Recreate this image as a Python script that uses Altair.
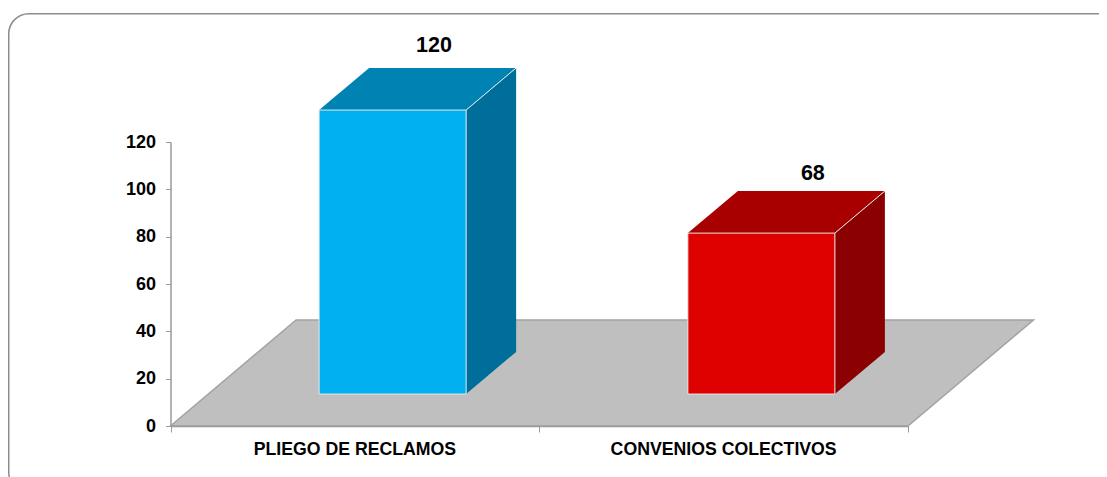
import altair as alt
import pandas as pd

# --- chart values ---
categories = ["PLIEGO DE RECLAMOS", "CONVENIOS COLECTIVOS"]
values = [120, 68]
y_ticks = [0, 20, 40, 60, 80, 100, 120]
x_ticks = [0, 1, 2]

# --- colours per category ---
front_colors = ["#00B0F0", "#DF0000"]
top_colors = ["#0082B2", "#A80000"]
side_colors = ["#006E9B", "#8B0000"]

# --- pseudo-3D geometry, in data units ---
BAR_LEFT = 0.403      # front face starts this far into the category slot
BAR_W = 0.3987
BASE = 13.5           # front-bottom height above the floor's front edge
DEPTH_X = 0.1356
DEPTH_Y = 17.8
FLOOR_DX = 0.3403
FLOOR_DY = 44.8
LABEL_X = [0.7146, 1.742]
LABEL_GAP = [40.6, 38.5]

FONT = "Liberation Sans"
AXIS_COLOR = "#9A9A9A"
VIEW_W = 1091
VIEW_H = 464

x_scale = alt.Scale(domain=[0, 2], range=[162.5, 900], nice=False, zero=False)
y_scale = alt.Scale(domain=[0, 120], range=[413, 129], nice=False, zero=False)

x_enc = alt.X("x:Q", scale=x_scale,
              axis=alt.Axis(values=x_ticks, labels=False, title=None, grid=False,
                            offset=413 - VIEW_H,
                            domainColor=AXIS_COLOR, domainWidth=1.5, tickColor=AXIS_COLOR,
                            tickWidth=1, tickSize=6, zindex=1))
y_enc = alt.Y("y:Q", scale=y_scale,
              axis=alt.Axis(values=y_ticks, title=None, grid=False, offset=-162.5,
                            domainColor=AXIS_COLOR, domainWidth=1.5, tickColor=AXIS_COLOR,
                            tickWidth=1, tickSize=5, labelFont=FONT, labelFontSize=18,
                            labelFontWeight="bold", labelColor="#000000", labelPadding=10,
                            zindex=1))

# rounded panel border: deliberately larger than the page, so it is cut at right and bottom
frame = alt.Chart(pd.DataFrame({"a": [0]})).mark_rect(
    fill="#FFFFFF", stroke="#8C8C8C", strokeWidth=1.5, cornerRadius=20
).encode(x=alt.value(0.75), x2=alt.value(1116), y=alt.value(0.75), y2=alt.value(479))

floor = pd.DataFrame({"x": [0, FLOOR_DX], "x2": [2, 2 + FLOOR_DX], "y": [0, FLOOR_DY]})
layers = [
    frame,
    alt.Chart(floor).mark_area(orient="horizontal", color="#BFBFBF", stroke="#A3A3A3",
                               strokeWidth=1.5)
    .encode(x=x_enc, x2="x2:Q", y=y_enc),
]

for i, (cat, val) in enumerate(zip(categories, values)):
    xl = i + BAR_LEFT
    xr = xl + BAR_W
    low = BASE
    high = BASE + val
    side = pd.DataFrame({"x": [xr, xr + DEPTH_X],
                         "y": [low, low + DEPTH_Y],
                         "y2": [high, high + DEPTH_Y]})
    top = pd.DataFrame({"x": [xl, xl + DEPTH_X],
                        "x2": [xr, xr + DEPTH_X],
                        "y": [high, high + DEPTH_Y]})
    front = pd.DataFrame({"x": [xl], "x2": [xr], "y": [low], "y2": [high]})
    edge = pd.DataFrame({"x": [xr], "x2": [xr + DEPTH_X], "y": [high], "y2": [high + DEPTH_Y]})
    layers += [
        alt.Chart(side).mark_area(orient="vertical", color=side_colors[i])
        .encode(x="x:Q", y="y:Q", y2="y2:Q"),
        alt.Chart(top).mark_area(orient="horizontal", color=top_colors[i])
        .encode(x="x:Q", x2="x2:Q", y="y:Q"),
        alt.Chart(edge).mark_rule(color="#E8EEF0", strokeWidth=1)
        .encode(x="x:Q", x2="x2:Q", y="y:Q", y2="y2:Q"),
        alt.Chart(front).mark_rect(color=front_colors[i], stroke="#E4E8EA", strokeWidth=1)
        .encode(x="x:Q", x2="x2:Q", y="y:Q", y2="y2:Q"),
    ]

value_labels = pd.DataFrame({"x": LABEL_X,
                             "y": [v + g for v, g in zip(values, LABEL_GAP)],
                             "t": [str(v) for v in values]})
layers.append(
    alt.Chart(value_labels).mark_text(font=FONT, fontSize=21.5, fontWeight="bold", color="#000000",
                                      baseline="middle", align="center")
    .encode(x="x:Q", y="y:Q", text="t:N")
)

cat_labels = pd.DataFrame({"x": [0.5, 1.5], "y": [0, 0], "t": categories})
layers.append(
    alt.Chart(cat_labels).mark_text(font=FONT, fontSize=17.7, fontWeight="bold", color="#000000",
                                    baseline="middle", align="center", dy=24)
    .encode(x="x:Q", y="y:Q", text="t:N")
)

chart = (
    alt.layer(*layers)
    .properties(width=VIEW_W, height=VIEW_H,
                padding={"left": 0, "top": 5, "right": 0, "bottom": 0},
                autosize=alt.AutoSizeParams(type="none"))
    .configure_view(stroke=None)
)

chart.save("out.html", embed_options={"renderer": "svg", "actions": False})
